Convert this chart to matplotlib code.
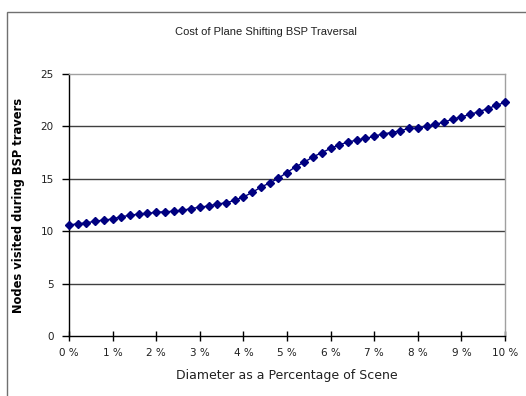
import matplotlib
matplotlib.use("Agg")
import matplotlib.pyplot as plt
from matplotlib.patches import Rectangle

x_pct = [0.0, 0.2, 0.4, 0.6, 0.8, 1.0, 1.2, 1.4, 1.6, 1.8,
         2.0, 2.2, 2.4, 2.6, 2.8, 3.0, 3.2, 3.4, 3.6, 3.8,
         4.0, 4.2, 4.4, 4.6, 4.8, 5.0, 5.2, 5.4, 5.6, 5.8,
         6.0, 6.2, 6.4, 6.6, 6.8, 7.0, 7.2, 7.4, 7.6, 7.8,
         8.0, 8.2, 8.4, 8.6, 8.8, 9.0, 9.2, 9.4, 9.6, 9.8, 10.0]
nodes = [10.6, 10.7, 10.8, 10.95, 11.07, 11.16, 11.4, 11.5, 11.65, 11.7,
         11.8, 11.86, 11.9, 12.0, 12.15, 12.3, 12.4, 12.6, 12.7, 12.95,
         13.26, 13.7, 14.2, 14.6, 15.05, 15.6, 16.15, 16.6, 17.1, 17.5,
         17.9, 18.25, 18.5, 18.7, 18.85, 19.05, 19.3, 19.4, 19.6, 19.8,
         19.85, 20.0, 20.2, 20.4, 20.7, 20.9, 21.15, 21.4, 21.7, 22.0, 22.3]
x_ticks = [0, 1, 2, 3, 4, 5, 6, 7, 8, 9, 10]
x_ticklabels = ["0 %", "1 %", "2 %", "3 %", "4 %", "5 %", "6 %", "7 %", "8 %", "9 %", "10 %"]
y_ticks = [0, 5, 10, 15, 20, 25]
title = "Cost of Plane Shifting BSP Traversal"
xlabel = "Diameter as a Percentage of Scene"
ylabel = "Nodes visited during BSP travers"

W, H = 526, 396
fig = plt.figure(figsize=(W / 100, H / 100), dpi=100)
fig.patch.set_facecolor("white")

# outer chart frame
fig.add_artist(Rectangle((7 / W, -0.02), 1.2, 1 - 12 / H + 0.02,
                         transform=fig.transFigure, fill=False,
                         edgecolor="#707070", lw=1.0))

ax = fig.add_axes([69 / W, 1 - 336 / H, (505 - 69) / W, (336 - 74) / H])
ax.set_xlim(0, 10)
ax.set_ylim(0, 25)

for yv in [5, 10, 15, 20]:
    ax.axhline(yv, color="#404040", lw=1.0, zorder=1)

ax.plot(x_pct, nodes, color="#000080", lw=1.0, marker="D", markersize=4.3,
        markerfacecolor="#000080", markeredgecolor="#000080", zorder=3,
        clip_on=False)

ax.spines["left"].set_color("black")
ax.spines["bottom"].set_color("black")
ax.spines["top"].set_color("#a0a0a0")
ax.spines["right"].set_color("#a0a0a0")
for s in ax.spines.values():
    s.set_linewidth(1.0)

ax.set_xticks(x_ticks)
ax.set_xticklabels(x_ticklabels)
ax.set_yticks(y_ticks)
ax.tick_params(axis="x", direction="inout", length=7, width=1, color="black",
               labelsize=7.5, pad=5)
ax.tick_params(axis="y", direction="out", length=5, width=1, color="black",
               labelsize=7.5, pad=6)
for lbl in ax.get_xticklabels() + ax.get_yticklabels():
    lbl.set_family("DejaVu Sans")
    lbl.set_color("#202020")

ax.set_xlabel(xlabel, fontsize=9, family="DejaVu Sans", labelpad=8, color="#202020")
ax.set_ylabel(ylabel, fontsize=8.3, family="DejaVu Sans", fontweight="bold",
              labelpad=11)

fig.text(266 / W, 1 - 32 / H, title, ha="center", va="center",
         fontsize=8, family="Liberation Sans", color="#202020")

fig.savefig("out.png", dpi=100, facecolor="white")
